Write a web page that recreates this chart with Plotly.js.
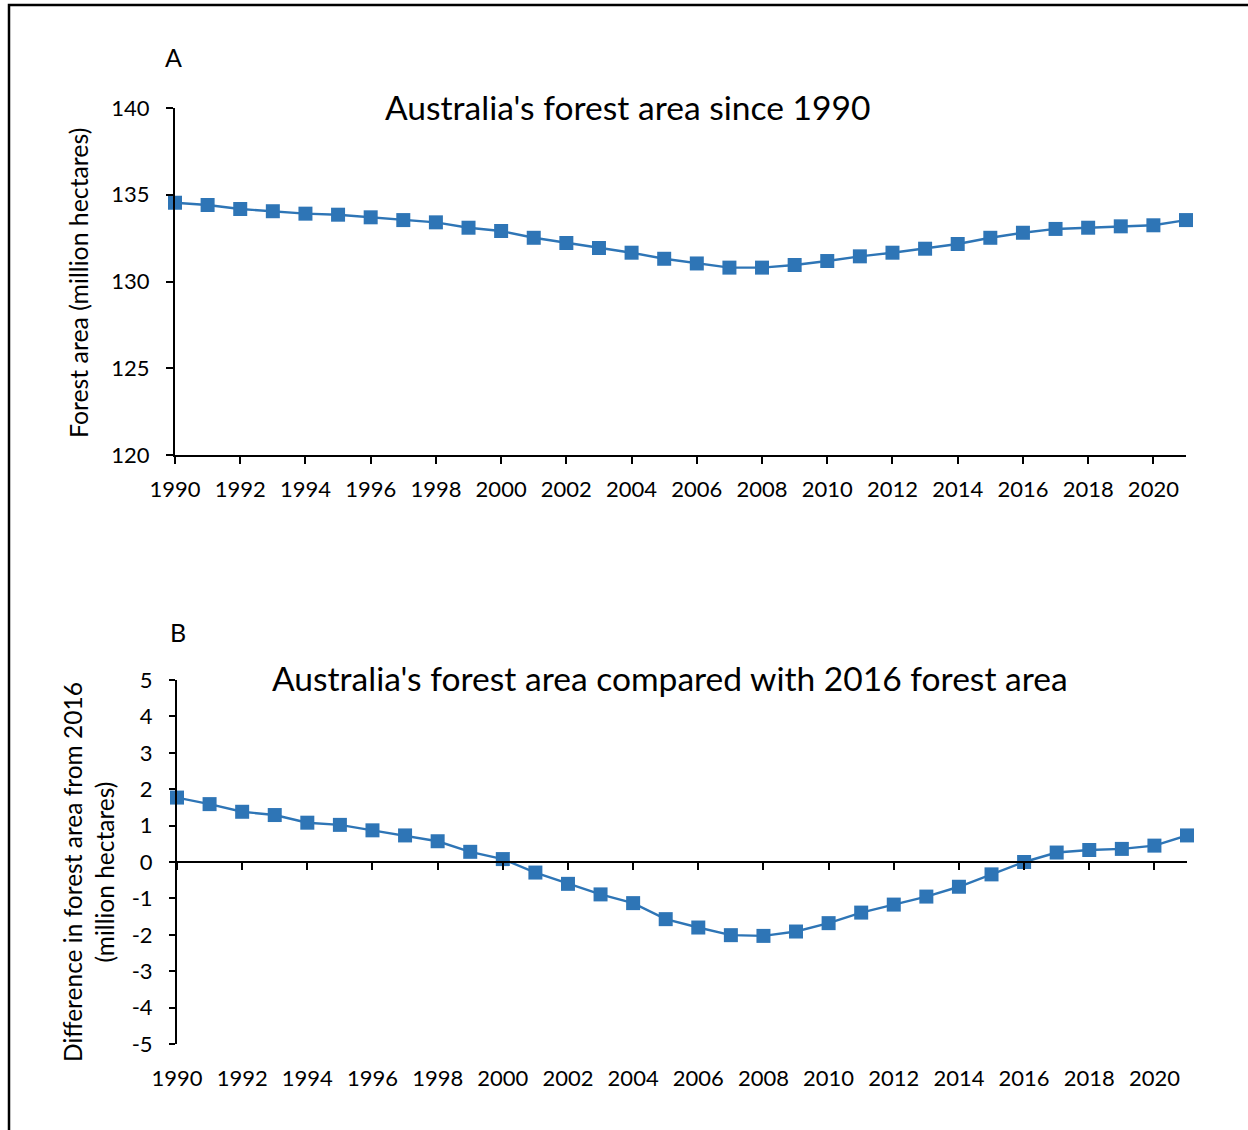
<!DOCTYPE html>
<html>
<head>
<meta charset="utf-8">
<script src="https://cdn.plot.ly/plotly-3.0.1.min.js"></script>
<style>
html,body{margin:0;padding:0;background:#fff;}
#chart{width:1248px;height:1130px;}
</style>
</head>
<body>
<div id="chart"></div>
<script>
// ---- Data ----
const years = [1990,1991,1992,1993,1994,1995,1996,1997,1998,1999,2000,2001,2002,2003,2004,2005,2006,2007,2008,2009,2010,2011,2012,2013,2014,2015,2016,2017,2018,2019,2020,2021];

// Panel A: forest area (million hectares)
const forestArea = [134.54,134.41,134.18,134.05,133.91,133.85,133.70,133.54,133.41,133.10,132.91,132.52,132.22,131.93,131.66,131.31,131.04,130.80,130.80,130.95,131.18,131.45,131.66,131.89,132.16,132.52,132.81,133.03,133.10,133.18,133.24,133.54];

// Panel B: difference from 2016 forest area (million hectares)
const diffFrom2016 = [1.77,1.59,1.38,1.29,1.08,1.02,0.87,0.73,0.57,0.28,0.08,-0.29,-0.60,-0.89,-1.13,-1.57,-1.80,-2.01,-2.03,-1.91,-1.68,-1.39,-1.17,-0.95,-0.68,-0.34,0.00,0.26,0.33,0.36,0.45,0.73];

// Panel B y tick labels (plain hyphen minus, as in the original)
const diffTickVals = [-5,-4,-3,-2,-1,0,1,2,3,4,5];
const diffTickText = ['-5','-4','-3','-2','-1','0','1','2','3','4','5'];

const panelLabels = ['A','B'];
const panelTitles = ["Australia's forest area since 1990", "Australia's forest area compared with 2016 forest area"];
const yTitleA = 'Forest area (million hectares)';
const yTitleB = ['Difference in forest area from 2016','(million hectares)'];

// ---- Styling ----
const W = 1248, H = 1130;
const FONT = "Lato, 'Open Sans', sans-serif";
const BLUE = '#2E75B6';
const px = v => v / W;
const py = v => 1 - v / H;

const traceStyle = {
  mode: 'lines+markers',
  line: {color: BLUE, width: 2.4},
  marker: {symbol: 'square', size: 14, color: BLUE},
  cliponaxis: false,
  hoverinfo: 'x+y',
  showlegend: false
};

const data = [
  Object.assign({x: years, y: forestArea, xaxis: 'x', yaxis: 'y', name: 'Forest area'}, traceStyle),
  Object.assign({x: years, y: diffFrom2016, xaxis: 'x2', yaxis: 'y2', name: 'Difference from 2016'}, traceStyle)
];

const tickFont = {family: FONT, size: 22, color: '#000'};

const baseX = {
  range: [1990, 2021],
  tick0: 1990, dtick: 2, tickmode: 'linear',
  showgrid: false, zeroline: false,
  showline: true, linecolor: '#000', linewidth: 2,
  ticks: 'outside', ticklen: 7, tickwidth: 2, tickcolor: '#000',
  tickfont: tickFont
};

const layout = {
  width: W, height: H,
  margin: {l: 0, r: 0, t: 0, b: 0},
  paper_bgcolor: '#fff', plot_bgcolor: 'rgba(0,0,0,0)',
  font: {family: FONT, color: '#000'},
  showlegend: false,
  xaxis: Object.assign({}, baseX, {
    domain: [px(175), px(1186)], anchor: 'y',
    ticklabelstandoff: 7
  }),
  yaxis: {
    domain: [py(455), py(108)], anchor: 'x',
    range: [120, 140], tick0: 120, dtick: 5, tickmode: 'linear',
    showgrid: false, zeroline: false,
    showline: true, linecolor: '#000', linewidth: 2,
    ticks: 'outside', ticklen: 7, tickwidth: 2, tickcolor: '#000',
    tickfont: tickFont, ticklabelstandoff: 12
  },
  // bottom panel: axis line crosses at y = 0, labels pushed to the bottom of the panel
  xaxis2: Object.assign({}, baseX, {
    domain: [px(177), px(1187)], anchor: 'free', position: py(862),
    ticklabelstandoff: 190
  }),
  yaxis2: {
    domain: [py(1044), py(680)], anchor: 'x2',
    range: [-5, 5], tickmode: 'array', tickvals: diffTickVals, ticktext: diffTickText,
    showgrid: false, zeroline: false,
    showline: true, linecolor: '#000', linewidth: 2,
    ticks: 'outside', ticklen: 6, tickwidth: 2, tickcolor: '#000',
    tickfont: tickFont, ticklabelstandoff: 12
  },
  annotations: [
    {text: panelLabels[0], xref: 'paper', yref: 'paper', x: px(173), y: py(57), xanchor: 'center', yanchor: 'middle', showarrow: false, font: {family: FONT, size: 25, color: '#000'}},
    {text: panelLabels[1], xref: 'paper', yref: 'paper', x: px(178), y: py(632), xanchor: 'center', yanchor: 'middle', showarrow: false, font: {family: FONT, size: 25, color: '#000'}},
    {text: panelTitles[0], xref: 'paper', yref: 'paper', x: px(627), y: py(107), xanchor: 'center', yanchor: 'middle', showarrow: false, font: {family: FONT, size: 33.6, color: '#000'}},
    {text: panelTitles[1], xref: 'paper', yref: 'paper', x: px(670), y: py(678), xanchor: 'center', yanchor: 'middle', showarrow: false, font: {family: FONT, size: 33.6, color: '#000'}},
    {text: yTitleA, xref: 'paper', yref: 'paper', x: px(78), y: py(283), xanchor: 'center', yanchor: 'middle', textangle: -90, showarrow: false, font: {family: FONT, size: 24.8, color: '#000'}},
    {text: yTitleB.join('<br>'), xref: 'paper', yref: 'paper', x: px(88), y: py(872), xanchor: 'center', yanchor: 'middle', textangle: -90, showarrow: false, font: {family: FONT, size: 24.5, color: '#000'}}
  ],
  shapes: [
    {type: 'rect', xref: 'paper', yref: 'paper', x0: px(9), x1: 1.05, y0: -0.05, y1: py(5), line: {color: '#000', width: 2.5}, fillcolor: 'rgba(0,0,0,0)', layer: 'below'}
  ]
};

Plotly.newPlot('chart', data, layout, {displayModeBar: false, staticPlot: true});
</script>
</body>
</html>
